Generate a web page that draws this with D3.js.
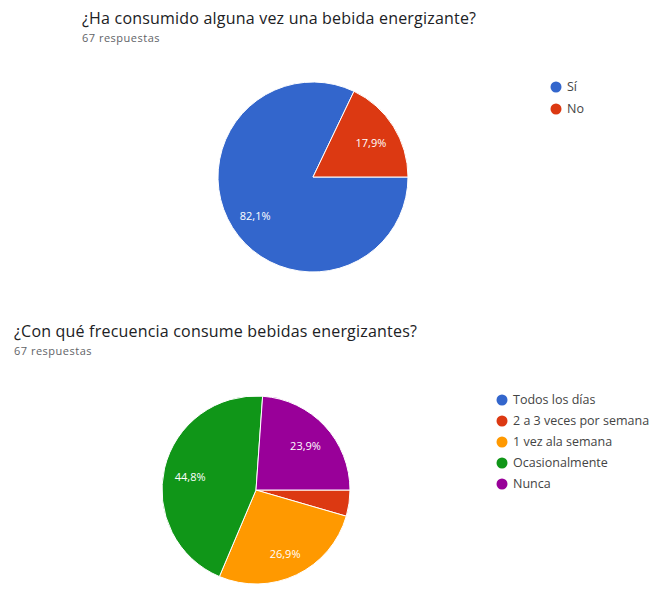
<!DOCTYPE html>
<html>
<head>
<meta charset="utf-8">
<script src="https://cdn.jsdelivr.net/npm/d3@7"></script>
<style>
  html, body { margin: 0; padding: 0; background: #fff; }
  svg { display: block; font-family: "Open Sans", Arial, sans-serif; }
</style>
</head>
<body>
<svg id="chart" width="655" height="590"></svg>
<script>
// Survey question 1
const q1Title = "¿Ha consumido alguna vez una bebida energizante?";
const q1Responses = "67 respuestas";
const q1Categories = ["Sí", "No"];
const q1Values = [82.1, 17.9];
const q1Colors = ["#3366cc", "#dc3912"];

// Survey question 2
const q2Title = "¿Con qué frecuencia consume bebidas energizantes?";
const q2Responses = "67 respuestas";
const q2Categories = ["Todos los días", "2 a 3 veces por semana", "1 vez ala semana", "Ocasionalmente", "Nunca"];
const q2Values = [0, 4.5, 26.9, 44.8, 23.9];
const q2Colors = ["#3366cc", "#dc3912", "#ff9900", "#109618", "#990099"];

const svg = d3.select("#chart");
const fmt = v => d3.format(".1f")(v).replace(".", ",") + "%";

function drawBlock(cfg) {
  const g = svg.append("g");

  g.append("text")
    .attr("x", cfg.titleX).attr("y", cfg.titleY)
    .attr("fill", "#202124")
    .style("font-size", "16px")
    .style("letter-spacing", "0.2px")
    .text(cfg.title);

  g.append("text")
    .attr("x", cfg.titleX).attr("y", cfg.titleY + 18)
    .attr("fill", "#5f6368")
    .style("font-size", "11px")
    .style("letter-spacing", "0.5px")
    .text(cfg.responses);

  const pie = d3.pie().sort(null)
    .startAngle(Math.PI / 2)
    .endAngle(Math.PI / 2 + 2 * Math.PI)
    .value(d => d.value);

  const data = cfg.categories.map((c, i) => ({ name: c, value: cfg.values[i], color: cfg.colors[i] }));
  const arcs = pie(data);

  const arc = d3.arc().innerRadius(0).outerRadius(cfg.r);
  const labelArc = d3.arc().innerRadius(cfg.r * cfg.labelK).outerRadius(cfg.r * cfg.labelK);

  const pg = g.append("g").attr("transform", `translate(${cfg.cx},${cfg.cy})`);
  pg.selectAll("path").data(arcs.filter(d => d.value > 0)).join("path")
    .attr("d", arc)
    .attr("fill", d => d.data.color)
    .attr("stroke", "#fff")
    .attr("stroke-width", 1);

  pg.selectAll("text").data(arcs.filter(d => d.value >= cfg.minLabel)).join("text")
    .attr("transform", d => `translate(${labelArc.centroid(d)})`)
    .attr("text-anchor", "middle")
    .attr("dy", "0.6em")
    .attr("fill", "#fff")
    .style("font-size", "11px")
    .text(d => fmt(d.value));

  const lg = g.append("g").attr("transform", `translate(${cfg.legendX},${cfg.legendY})`);
  const items = lg.selectAll("g").data(data).join("g")
    .attr("transform", (d, i) => `translate(0,${i * cfg.legendStep})`);
  items.append("circle").attr("r", 5.5).attr("fill", d => d.color);
  items.append("text")
    .attr("x", 11).attr("dy", "0.35em")
    .attr("fill", "#444")
    .style("font-size", "12.5px")
    .text(d => d.name);
}

drawBlock({
  title: q1Title, responses: q1Responses,
  categories: q1Categories, values: q1Values, colors: q1Colors,
  titleX: 82, titleY: 24,
  cx: 313, cy: 177, r: 95, labelK: 0.72, minLabel: 5,
  legendX: 556, legendY: 87, legendStep: 22
});

drawBlock({
  title: q2Title, responses: q2Responses,
  categories: q2Categories, values: q2Values, colors: q2Colors,
  titleX: 14, titleY: 337,
  cx: 256, cy: 490, r: 94, labelK: 0.72, minLabel: 5,
  legendX: 502, legendY: 400, legendStep: 21
});
</script>
</body>
</html>
